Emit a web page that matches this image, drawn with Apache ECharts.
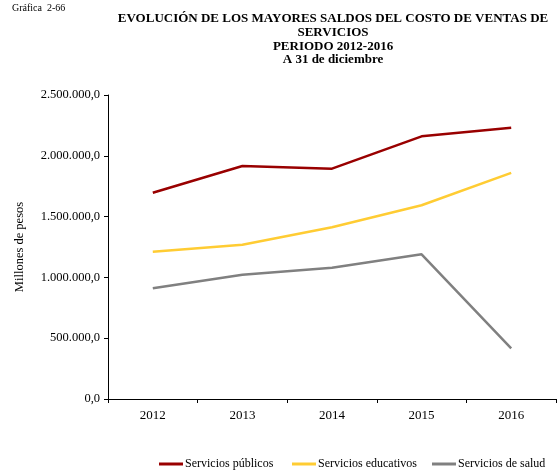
<!DOCTYPE html>
<html>
<head>
<meta charset="utf-8">
<script src="https://cdn.jsdelivr.net/npm/echarts@6/dist/echarts.min.js"></script>
<style>
	body{margin:0;background:#fff;}
	#main{width:558px;height:472px;}
</style>
</head>
<body>
<div id="main"></div>
<script>
// datos
var years = ['2012', '2013', '2014', '2015', '2016'];
var publicos = [1696000, 1916000, 1894000, 2160000, 2231000];
var educativos = [1211000, 1269000, 1412000, 1593000, 1859000];
var salud = [910000, 1022000, 1080000, 1190000, 417000];
var names = ['Servicios públicos', 'Servicios educativos', 'Servicios de salud'];

var fontSerif = '"Liberation Serif", "Times New Roman", serif';

// formato 2.500.000,0
function fmt(v) {
	var s = Math.round(v).toString().replace(/\B(?=(\d{3})+(?!\d))/g, '.');
	return s + ',0';
}

function leyenda(name, left) {
	return {
		data: [name],
		left: left,
		top: 458,
		padding: 0,
		icon: 'rect',
		itemWidth: 24,
		itemHeight: 3,
		textStyle: {fontFamily: fontSerif, fontSize: 12, color: '#000', padding: [0, 0, 0, -3]}
	};
}

var myChart = echarts.init(document.getElementById('main'));

var option = {
	backgroundColor: '#fff',
	animation: false,
	graphic: [{
		type: 'text',
		left: 12,
		top: 3,
		style: {text: 'Gráfica  2-66', font: '10px ' + fontSerif, fill: '#000'}
	}],
	title: {
		text: 'EVOLUCIÓN DE LOS MAYORES SALDOS DEL COSTO DE VENTAS DE\nSERVICIOS\nPERIODO 2012-2016\nA 31 de diciembre',
		left: 328,
		top: 7,
		textAlign: 'center',
		textStyle: {
			fontFamily: fontSerif,
			fontWeight: 'bold',
			fontSize: 13,
			lineHeight: 13.7,
			color: '#000'
		}
	},
	legend: [
		leyenda(names[0], 159),
		leyenda(names[1], 292),
		leyenda(names[2], 432)
	],
	grid: {left: 108, right: 2, top: 95, bottom: 73, containLabel: false},
	xAxis: {
		type: 'category',
		data: years,
		axisLine: {lineStyle: {color: '#000', width: 1}},
		axisTick: {show: true, length: 4, lineStyle: {color: '#000'}},
		axisLabel: {fontFamily: fontSerif, fontSize: 13, color: '#000', margin: 10}
	},
	yAxis: {
		type: 'value',
		min: 0,
		max: 2500000,
		interval: 500000,
		name: 'Millones de pesos',
		nameLocation: 'middle',
		nameGap: 82,
		nameTextStyle: {fontFamily: fontSerif, fontSize: 12.5, color: '#000'},
		splitLine: {show: false},
		axisLine: {show: true, lineStyle: {color: '#000', width: 1}},
		axisTick: {show: true, length: 4, lineStyle: {color: '#000'}},
		axisLabel: {fontFamily: fontSerif, fontSize: 12.5, color: '#000', margin: 8, formatter: fmt}
	},
	series: [
		{
			name: names[0],
			type: 'line',
			data: publicos,
			symbol: 'none',
			lineStyle: {color: '#990000', width: 2.5},
			itemStyle: {color: '#990000'}
		},
		{
			name: names[1],
			type: 'line',
			data: educativos,
			symbol: 'none',
			lineStyle: {color: '#FFCC33', width: 2.5},
			itemStyle: {color: '#FFCC33'}
		},
		{
			name: names[2],
			type: 'line',
			data: salud,
			symbol: 'none',
			lineStyle: {color: '#808080', width: 2.5},
			itemStyle: {color: '#808080'}
		}
	]
};

myChart.setOption(option);
</script>
</body>
</html>
